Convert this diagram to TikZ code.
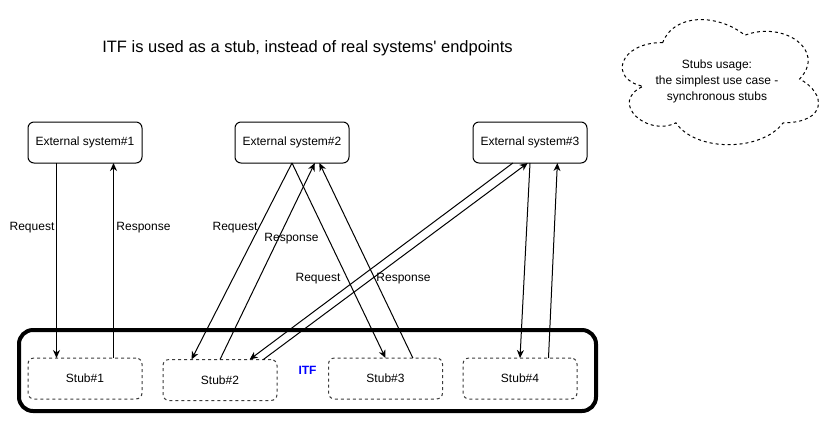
\documentclass[tikz,border=0pt]{standalone}
\usepackage{fontspec}
\setmainfont{Liberation Sans}
\usepackage{tikz}
\usetikzlibrary{arrows.meta,calc}
\definecolor{itfblue}{RGB}{0,0,255}
\definecolor{stubgrey}{RGB}{60,60,60}
\newcommand{\linkdown}[4]{\draw[link] ($(#1.south west)!#2!(#1.south east)$)--($(#3.north west)!#4!(#3.north east)$);}
\newcommand{\linkup}[4]{\draw[link] ($(#1.north west)!#2!(#1.north east)$)--($(#3.south west)!#4!(#3.south east)$);}
\tikzset{
  extbox/.style={draw,line width=1pt,rounded corners=6pt,minimum width=114pt,minimum height=41pt,inner sep=0pt,outer sep=0pt,font=\fontsize{12}{14}\selectfont},
  stubbox/.style={extbox,draw=stubgrey,dash pattern=on 3pt off 3pt},
  link/.style={line width=1pt,-{Stealth[length=8pt,width=7pt,inset=2.5pt]}},
  lbl/.style={inner sep=0pt,font=\fontsize{12}{14}\selectfont}
}

\begin{document}
\begin{tikzpicture}[x=1pt,y=-1pt]
\useasboundingbox (0,0) rectangle (837,424);
\node[font=\fontsize{16.5}{19}\selectfont] (title) at (307.5,48) {ITF is used as a stub, instead of real systems\textquotesingle{} endpoints};
\node[draw,line width=4pt,rounded corners=14pt,minimum width=577pt,minimum height=81pt,text=itfblue,font=\fontsize{12}{14}\selectfont\bfseries] (itf) at (307.5,370.5) {ITF};
\node[extbox] (ext1) at (85,142.5) {External system\#1};
\node[extbox] (ext2) at (292,142.5) {External system\#2};
\node[extbox] (ext3) at (530,142.5) {External system\#3};
\node[stubbox] (stub1) at (85,378.5) {Stub\#1};
\node[stubbox] (stub2) at (220,380) {Stub\#2};
\node[stubbox] (stub3) at (385.5,378.5) {Stub\#3};
\node[stubbox] (stub4) at (520,378.5) {Stub\#4};
\begin{scope}[shift={(608,6)},xscale=219,yscale=146]
\draw[line width=1pt,dash pattern=on 3pt off 3pt] (.25,.25) .. controls (.05,.25) and (0,.5) .. (.16,.55) .. controls (0,.66) and (.18,.9) .. (.31,.8) .. controls (.4,1) and (.7,1) .. (.8,.8) .. controls (1,.8) and (1,.6) .. (.875,.5) .. controls (1,.3) and (.8,.1) .. (.625,.2) .. controls (.5,.05) and (.3,.05) .. (.25,.25) -- cycle;
\end{scope}
\node[lbl,align=center,font=\fontsize{12}{16}\selectfont] (note) at (717,81) {Stubs usage:\\the simplest use case -\\synchronous stubs};
\linkdown{ext1}{.25}{stub1}{.25}
\linkup{stub1}{.75}{ext1}{.75}
\linkdown{ext2}{.5}{stub2}{.25}
\linkup{stub2}{.5}{ext2}{.7}
\linkdown{ext2}{.5}{stub3}{.5}
\linkup{stub3}{.74}{ext2}{.74}
\linkdown{ext3}{.35}{stub2}{.76}
\linkup{stub2}{.88}{ext3}{.48}
\linkdown{ext3}{.5}{stub4}{.5}
\linkup{stub4}{.75}{ext3}{.74}
\node[lbl] (req1) at (32,228) {Request};
\node[lbl] (resp1) at (143.5,228) {Response};
\node[lbl] (req2) at (235,228) {Request};
\node[lbl] (resp2) at (291.5,239) {Response};
\node[lbl] (req3) at (318,279) {Request};
\node[lbl] (resp3) at (403.5,279) {Response};
\end{tikzpicture}
\end{document}
